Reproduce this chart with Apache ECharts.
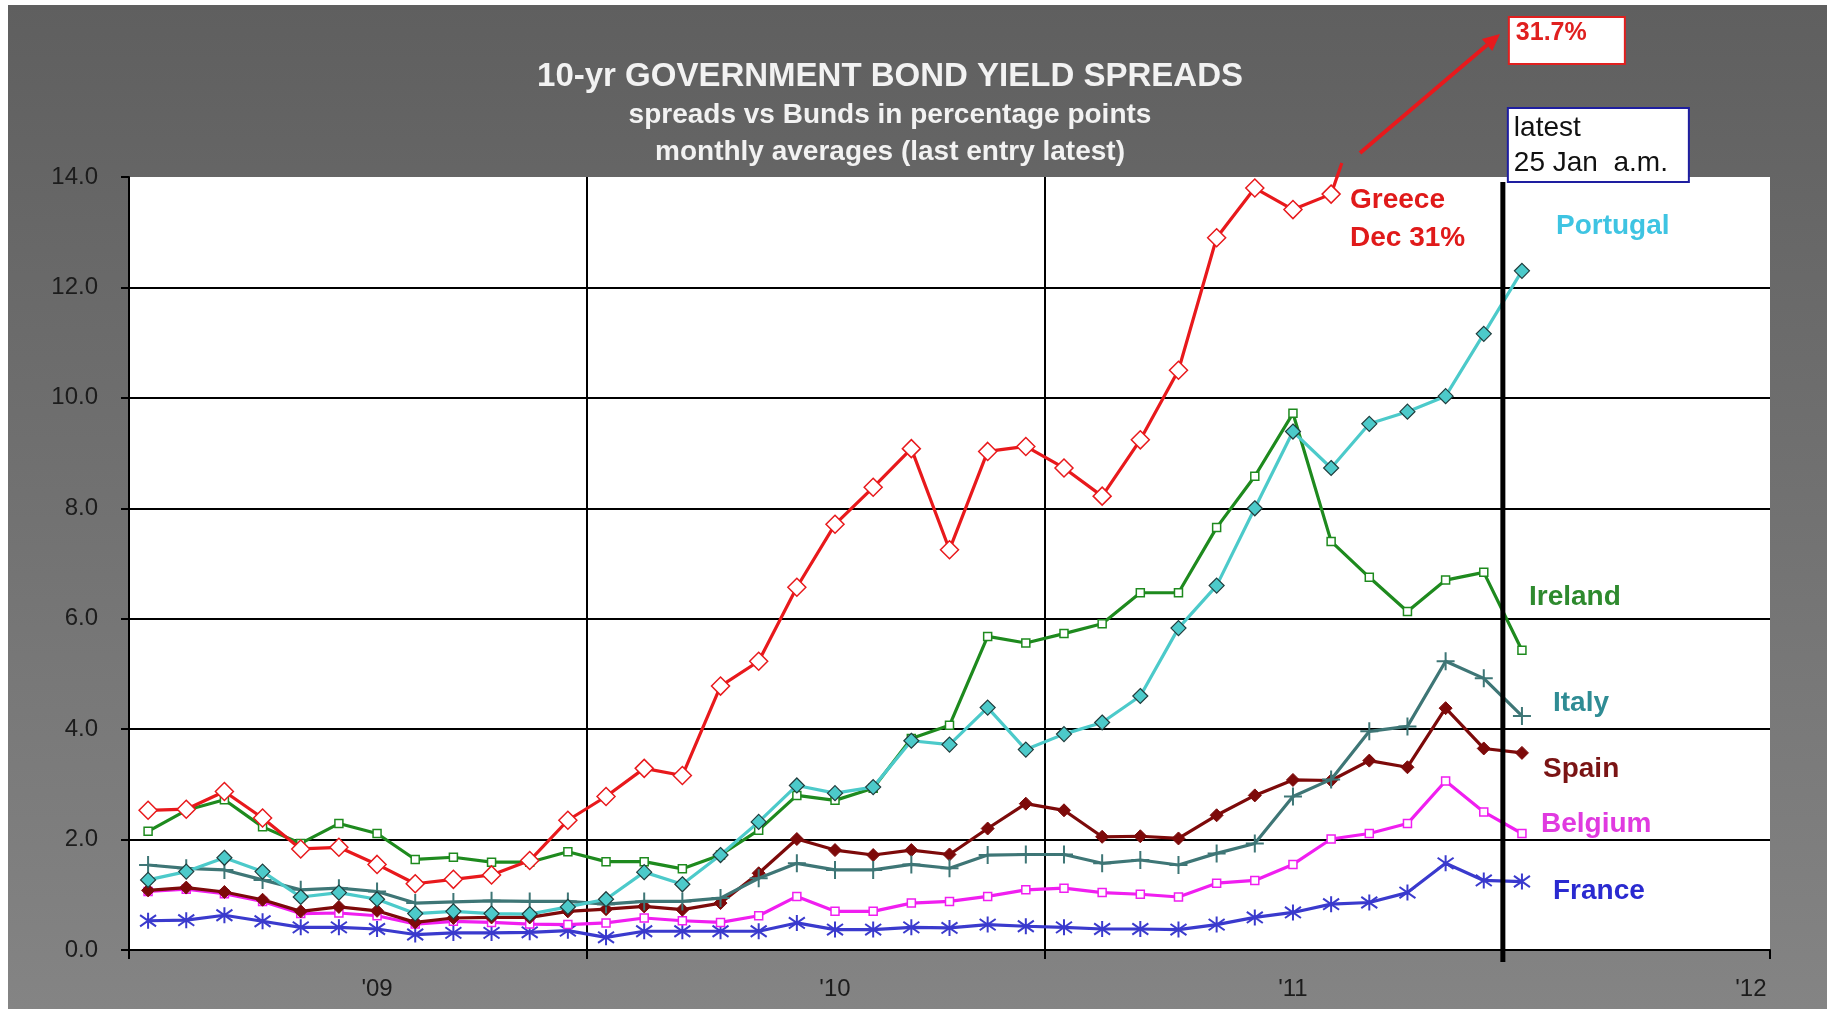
<!DOCTYPE html>
<html>
<head>
<meta charset="utf-8">
<title>10-yr Government Bond Yield Spreads</title>
<script src="https://cdn.jsdelivr.net/npm/echarts@6/dist/echarts.min.js"></script>
<style>
  html, body { margin: 0; padding: 0; background: #ffffff; }
  #chart { width: 1827px; height: 1009px; }
</style>
</head>
<body>
<div id="chart"></div>
<script>
// Monthly categories, Jan 2009 .. Jul 2012 (axis runs past the last observation)
const monthNames = ['Jan', 'Feb', 'Mar', 'Apr', 'May', 'Jun', 'Jul', 'Aug', 'Sep', 'Oct', 'Nov', 'Dec'];
const months = [];
for (let y = 2009; y <= 2012; y++) {
  for (let m = 0; m < 12; m++) {
    if (months.length < 43) months.push(monthNames[m] + ' ' + y);
  }
}

// Spreads vs Bunds, percentage points (monthly averages, last entry = 25 Jan a.m.)
const greece   = [2.53, 2.55, 2.87, 2.39, 1.83, 1.86, 1.55, 1.20, 1.28, 1.36, 1.62, 2.35, 2.78, 3.29, 3.16, 4.78, 5.23, 6.57, 7.71, 8.38, 9.08, 7.25, 9.03, 9.12, 8.73, 8.22, 9.24, 10.50, 12.90, 13.80, 13.41, 13.69, 15.7, null, null, 31.0, 31.7];
const ireland  = [2.15, 2.53, 2.72, 2.23, 1.93, 2.29, 2.11, 1.64, 1.68, 1.59, 1.59, 1.78, 1.60, 1.60, 1.47, 1.72, 2.17, 2.80, 2.71, 2.93, 3.83, 4.07, 5.68, 5.56, 5.73, 5.91, 6.47, 6.47, 7.65, 8.58, 9.72, 7.40, 6.75, 6.13, 6.70, 6.84, 5.43];
const portugal = [1.27, 1.42, 1.67, 1.42, 0.96, 1.04, 0.92, 0.66, 0.70, 0.66, 0.65, 0.78, 0.92, 1.41, 1.19, 1.72, 2.32, 2.98, 2.84, 2.95, 3.79, 3.72, 4.39, 3.63, 3.91, 4.12, 4.60, 5.83, 6.60, 8.00, 9.39, 8.73, 9.53, 9.75, 10.03, 11.16, 12.30];
const italy    = [1.54, 1.48, 1.45, 1.27, 1.09, 1.12, 1.06, 0.85, 0.87, 0.89, 0.88, 0.88, 0.83, 0.88, 0.88, 0.94, 1.30, 1.57, 1.45, 1.45, 1.55, 1.48, 1.72, 1.73, 1.73, 1.57, 1.63, 1.54, 1.75, 1.93, 2.78, 3.09, 3.96, 4.05, 5.23, 4.92, 4.24];
const spain    = [1.08, 1.13, 1.05, 0.91, 0.70, 0.78, 0.71, 0.50, 0.58, 0.59, 0.59, 0.70, 0.74, 0.79, 0.73, 0.85, 1.39, 2.01, 1.81, 1.72, 1.81, 1.73, 2.20, 2.65, 2.53, 2.05, 2.06, 2.02, 2.44, 2.80, 3.08, 3.07, 3.43, 3.31, 4.38, 3.65, 3.57];
const belgium  = [1.06, 1.10, 1.02, 0.88, 0.66, 0.67, 0.62, 0.47, 0.52, 0.50, 0.47, 0.46, 0.49, 0.58, 0.53, 0.50, 0.62, 0.97, 0.70, 0.70, 0.85, 0.88, 0.97, 1.09, 1.12, 1.04, 1.01, 0.96, 1.21, 1.26, 1.55, 2.01, 2.11, 2.29, 3.06, 2.50, 2.11];
const france   = [0.53, 0.54, 0.63, 0.52, 0.41, 0.41, 0.38, 0.28, 0.31, 0.31, 0.32, 0.35, 0.23, 0.34, 0.34, 0.34, 0.34, 0.49, 0.37, 0.37, 0.41, 0.40, 0.46, 0.43, 0.41, 0.38, 0.38, 0.37, 0.46, 0.59, 0.68, 0.83, 0.86, 1.04, 1.57, 1.26, 1.24];

const LATEST_INDEX = 36;   // last observation (Jan 2012)
const DEC_INDEX = 35;      // Dec 2011

const titleLines = ['10-yr GOVERNMENT BOND YIELD SPREADS', 'spreads vs Bunds in percentage points', 'monthly averages (last entry latest)'];

const C = {
  greece: '#e8191c', ireland: '#1e8a1e', portugal: '#4ccaca', italy: '#3e7676',
  spain: '#7d0a0a', belgium: '#f01ef0', france: '#3a3acd'
};
const FONT = '"Liberation Sans", Arial, Helvetica, sans-serif';

const chart = echarts.init(document.getElementById('chart'), null, { renderer: 'canvas' });

function lineSeries(name, data, color, symbol, size, itemStyle, z) {
  return {
    name, type: 'line', data, symbol, symbolSize: size, showSymbol: true,
    showAllSymbol: true, clip: true, connectNulls: false, z,
    lineStyle: { color, width: 3.2 },
    itemStyle,
    emphasis: { disabled: true },
    animation: false
  };
}

const PLUS = 'path://M5 0L5 10M0 5L10 5';
const ASTERISK = 'path://M5 0L5 10M1.5 1.5L8.5 8.5M8.5 1.5L1.5 8.5';

const option = {
  animation: false,
  textStyle: { fontFamily: FONT },
  grid: {
    left: 129, right: 57, top: 177, bottom: 59,
    show: true, backgroundColor: '#ffffff', borderWidth: 0, containLabel: false
  },
  xAxis: {
    type: 'category', data: months, boundaryGap: true,
    axisLine: { show: true, lineStyle: { color: '#000', width: 2 } },
    axisTick: { show: true, interval: (i) => i % 12 === 0, length: 9, lineStyle: { color: '#000', width: 2 } },
    axisLabel: {
      interval: (i) => i % 12 === 6,
      formatter: (v) => "'" + v.slice(-2),
      color: '#1c1c1c', fontSize: 24, margin: 27, fontFamily: FONT
    },
    splitLine: {
      show: true, showMaxLine: false,
      interval: (i) => i === 12 || i === 24,
      lineStyle: { color: '#000', width: 2 }
    }
  },
  yAxis: {
    type: 'value', min: 0, max: 14, interval: 2,
    axisLine: { show: true, lineStyle: { color: '#000', width: 2 } },
    axisTick: { show: true, length: 8, lineStyle: { color: '#000', width: 2 } },
    axisLabel: { formatter: (v) => v.toFixed(1), color: '#1c1c1c', fontSize: 24, margin: 31, fontFamily: FONT },
    splitLine: { show: true, showMaxLine: false, lineStyle: { color: '#000', width: 2 } }
  },
  series: [
    lineSeries('France', france, C.france, ASTERISK, 16, { color: C.france, borderColor: C.france, borderWidth: 2 }, 2),
    lineSeries('Belgium', belgium, C.belgium, 'rect', 8, { color: '#fff', borderColor: C.belgium, borderWidth: 1.5 }, 3),
    lineSeries('Spain', spain, C.spain, 'diamond', 13, { color: C.spain, borderColor: C.spain, borderWidth: 1 }, 4),
    lineSeries('Italy', italy, C.italy, PLUS, 18, { color: C.italy, borderColor: C.italy, borderWidth: 2 }, 5),
    lineSeries('Ireland', ireland, C.ireland, 'rect', 8, { color: '#fff', borderColor: C.ireland, borderWidth: 1.5 }, 6),
    lineSeries('Portugal', portugal, C.portugal, 'diamond', 15, { color: C.portugal, borderColor: '#203c3c', borderWidth: 1.2 }, 7),
    lineSeries('Greece', greece, C.greece, 'diamond', 18, { color: '#fff', borderColor: C.greece, borderWidth: 1.5 }, 8)
  ]
};
chart.setOption(option);

// ---- annotations (need pixel positions from the axes) ----
const xPix = (i) => chart.convertToPixel({ xAxisIndex: 0 }, months[i]);
const yPix = (v) => chart.convertToPixel({ yAxisIndex: 0 }, v);
const plotTop = yPix(14);
const plotBottom = yPix(0);
// boundary between the last two observed months
const latestX = (xPix(LATEST_INDEX - 1) + xPix(LATEST_INDEX)) / 2;

// Greece leaves the scale: short continuation above the plot before the arrow
const g31 = [xPix(31), yPix(greece[31])];
const g32 = [xPix(32), yPix(greece[32])];
const tAt = (yy) => (g31[1] - yy) / (g31[1] - g32[1]);
const exitT = tAt(plotTop), endT = tAt(plotTop - 14);
const exitPt = [g31[0] + exitT * (g32[0] - g31[0]), plotTop];
const endPt = [g31[0] + endT * (g32[0] - g31[0]), plotTop - 14];

// arrow to the off-scale latest reading
const arrowFrom = [1360, 153];
const arrowTip = [1500, 34];
const dx = arrowTip[0] - arrowFrom[0], dy = arrowTip[1] - arrowFrom[1];
const len = Math.hypot(dx, dy);
const ux = dx / len, uy = dy / len;
const headLen = 17, headHalf = 8;
const baseC = [arrowTip[0] - ux * headLen, arrowTip[1] - uy * headLen];
const head = [
  arrowTip,
  [baseC[0] - uy * headHalf, baseC[1] + ux * headHalf],
  [baseC[0] + uy * headHalf, baseC[1] - ux * headHalf]
];

function label(text, x, y, color, size, weight) {
  return {
    type: 'text', z: 120, silent: true,
    style: {
      text, x, y, fill: color,
      font: (weight || 'bold') + ' ' + size + 'px ' + FONT,
      textAlign: 'left', textVerticalAlign: 'middle'
    }
  };
}
function centered(text, y, size) {
  return {
    type: 'text', z: 120, silent: true,
    style: {
      text, x: 890, y, fill: '#f2f2f2',
      font: 'bold ' + size + 'px ' + FONT,
      textAlign: 'center', textVerticalAlign: 'middle'
    }
  };
}

const graphics = [
  // panel background
  {
    type: 'rect', z: -100, silent: true,
    shape: { x: 8, y: 5, width: 1827 - 8, height: 1009 - 5 },
    style: {
      fill: new echarts.graphic.LinearGradient(0, 0, 0, 1, [
        { offset: 0, color: '#5f5f5f' },
        { offset: 1, color: '#848484' }
      ])
    }
  },
  centered(titleLines[0], 77, 33),
  centered(titleLines[1], 115, 28),
  centered(titleLines[2], 152, 28),

  // Greece continuation and arrow
  {
    type: 'line', z: 90, silent: true,
    shape: { x1: exitPt[0], y1: exitPt[1], x2: endPt[0], y2: endPt[1] },
    style: { stroke: C.greece, lineWidth: 3.2 }
  },
  {
    type: 'line', z: 90, silent: true,
    shape: { x1: arrowFrom[0], y1: arrowFrom[1], x2: baseC[0], y2: baseC[1] },
    style: { stroke: C.greece, lineWidth: 4 }
  },
  {
    type: 'polygon', z: 90, silent: true,
    shape: { points: head },
    style: { fill: C.greece }
  },

  // latest-reading box (red)
  {
    type: 'rect', z: 110, silent: true,
    shape: { x: latestX + 6, y: 17, width: 116, height: 47 },
    style: { fill: '#ffffff', stroke: '#e0201f', lineWidth: 2 }
  },
  label(greece[LATEST_INDEX].toFixed(1) + '%', latestX + 13, 33, '#e0201f', 25, 'bold'),

  // "latest" marker line and box
  {
    type: 'line', z: 100, silent: true,
    shape: { x1: latestX, y1: 182, x2: latestX, y2: plotBottom + 12 },
    style: { stroke: '#000', lineWidth: 5 }
  },
  {
    type: 'rect', z: 110, silent: true,
    shape: { x: latestX + 5, y: 108, width: 181, height: 74 },
    style: { fill: '#ffffff', stroke: '#1e1ea0', lineWidth: 2 }
  },
  label('latest', latestX + 11, 128, '#111', 28, 'normal'),
  label('25 Jan  a.m.', latestX + 11, 163, '#111', 28, 'normal'),

  // series names
  label('Greece', 1350, 200, '#e01a1a', 28),
  label('Dec ' + greece[DEC_INDEX] + '%', 1350, 238, '#e01a1a', 28),
  label('Portugal', 1556, 226, '#3ec4e2', 28),
  label('Ireland', 1529, 597, '#2e8a2e', 28),
  label('Italy', 1553, 703, '#2f8c94', 28),
  label('Spain', 1543, 769, '#7a1414', 28),
  label('Belgium', 1541, 824, '#e03ae0', 28),
  label('France', 1553, 891, '#2a2ad0', 28)
];

chart.setOption({ graphic: { elements: graphics } });
</script>
</body>
</html>
